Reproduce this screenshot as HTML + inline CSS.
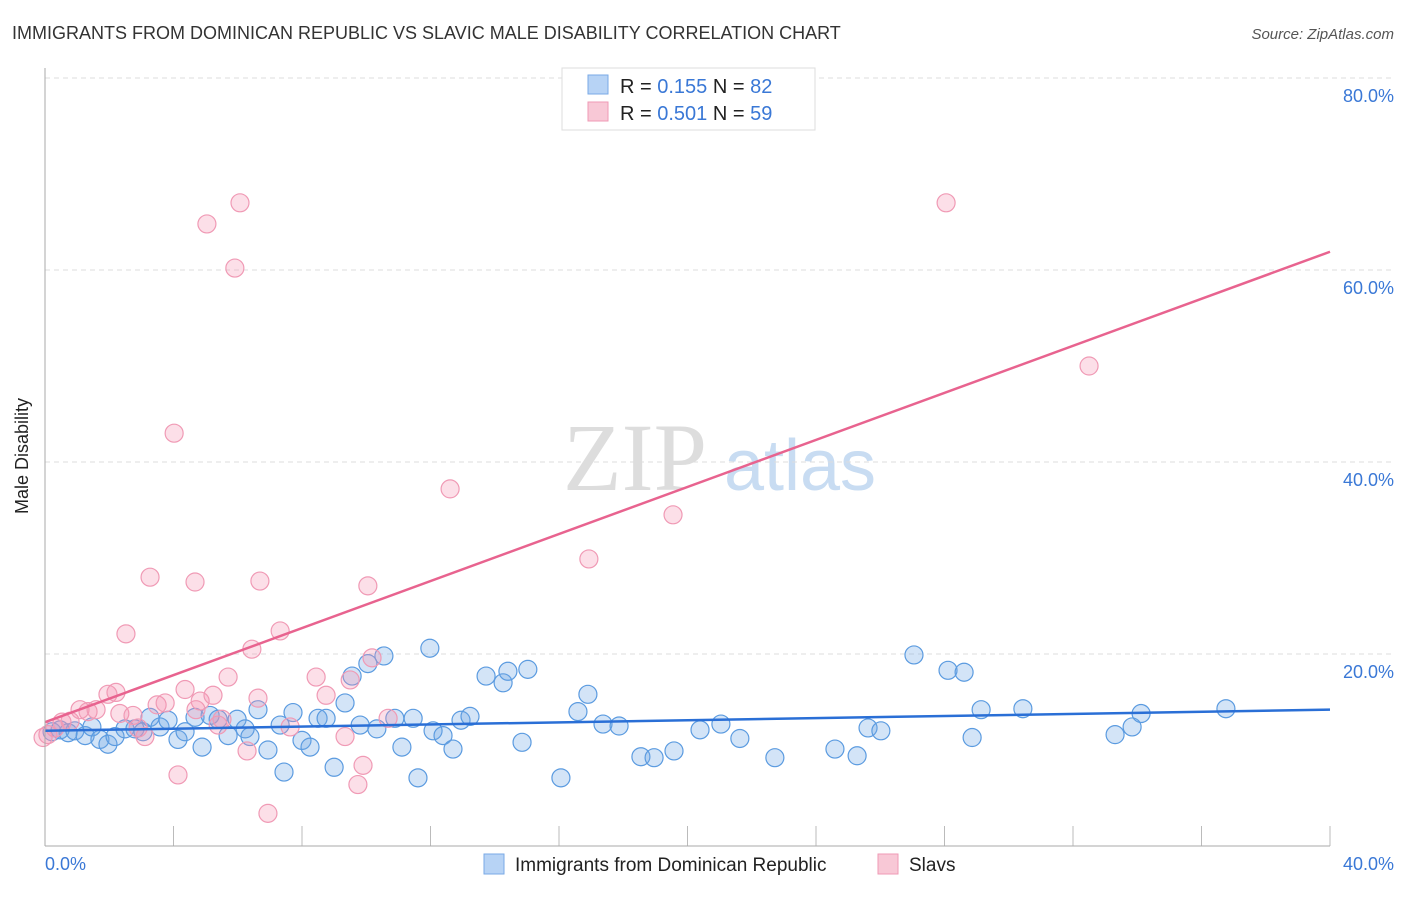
<!DOCTYPE html>
<html><head><meta charset="utf-8"><style>
body{margin:0;background:#fff;font-family:"Liberation Sans",sans-serif}
</style></head><body>
<svg id="c" width="1406" height="892" xmlns="http://www.w3.org/2000/svg">
<text x="12" y="39" font-size="18" fill="#333">IMMIGRANTS FROM DOMINICAN REPUBLIC VS SLAVIC MALE DISABILITY CORRELATION CHART</text>
<text x="1394" y="39" font-size="15" fill="#555" font-style="italic" text-anchor="end">Source: ZipAtlas.com</text>
<text x="635" y="490" font-size="96" fill="#ddd" text-anchor="middle" font-family="Liberation Serif,serif">ZIP</text>
<text x="800" y="490" font-size="72" fill="#c8dcf2" text-anchor="middle">atlas</text>
<g id="grid"></g><g id="pts"></g><g id="lines"></g>
<line x1="45" y1="68" x2="45" y2="846" stroke="#aaa"/>
<line x1="45" y1="846" x2="1330" y2="846" stroke="#aaa"/>
<text x="28" y="456" font-size="18" fill="#222" text-anchor="middle" transform="rotate(-90 28 456)">Male Disability</text>
<text x="45" y="870" font-size="18" fill="#3a78d6">0.0%</text>
<text x="1394" y="870" font-size="18" fill="#3a78d6" text-anchor="end">40.0%</text>
<g>
<rect x="562" y="68" width="253" height="62" fill="#fff" stroke="#ddd"/>
<rect x="588" y="75" width="20" height="19" fill="#b7d3f5" stroke="#7aaae6"/>
<rect x="588" y="102" width="20" height="19" fill="#f8c8d6" stroke="#ef9ab5"/>
<text x="620" y="93" font-size="20" fill="#222">R = <tspan fill="#3a78d6">0.155</tspan>   N = <tspan fill="#3a78d6">82</tspan></text>
<text x="620" y="120" font-size="20" fill="#222">R = <tspan fill="#3a78d6">0.501</tspan>   N = <tspan fill="#3a78d6">59</tspan></text>
</g>
<g>
<rect x="484" y="854" width="20" height="20" fill="#b7d3f5" stroke="#7aaae6"/>
<text x="515" y="871" font-size="19" fill="#222">Immigrants from Dominican Republic</text>
<rect x="878" y="854" width="20" height="20" fill="#f8c8d6" stroke="#ef9ab5"/>
<text x="909" y="871" font-size="19" fill="#222">Slavs</text>
</g>
</svg>
<script>
const yTicks=[20,40,60,80];
const xTicks=[0,4,8,12,16,20,24,28,32,36,40];
const blueX=[0.22,0.47,0.72,0.93,1.25,1.46,1.71,1.96,2.18,2.49,2.80,3.05,3.27,3.58,3.83,4.14,4.36,4.67,4.89,5.14,5.39,5.70,5.98,6.23,6.38,6.63,6.94,7.32,7.44,7.72,8.00,8.25,8.50,8.75,9.00,9.34,9.56,9.81,10.05,10.33,10.55,10.89,11.11,11.46,11.61,11.98,12.08,12.39,12.70,12.95,13.23,13.73,14.26,14.41,14.85,15.03,16.06,16.59,16.90,17.37,17.87,18.55,18.96,19.58,20.39,21.04,21.63,22.72,24.59,25.28,25.62,26.02,27.05,28.11,28.61,28.86,29.14,30.44,33.31,33.84,34.12,36.76];
const blueY=[11.9,12.1,11.8,12.0,11.5,12.4,11.1,10.6,11.4,12.2,12.2,11.9,13.4,12.4,13.1,11.1,11.9,13.4,10.3,13.6,13.2,11.5,13.2,12.2,11.4,14.2,10.0,12.6,7.7,13.9,11.0,10.3,13.3,13.3,8.2,14.9,17.7,12.6,19.0,12.2,19.8,13.3,10.3,13.3,7.1,20.6,12.0,11.5,10.1,13.1,13.5,17.7,17.0,18.2,10.8,18.4,7.1,14.0,15.8,12.7,12.5,9.3,9.2,9.9,12.1,12.7,11.2,9.2,10.1,9.4,12.3,12.0,19.9,18.3,18.1,11.3,14.2,14.3,11.6,12.4,13.8,14.3];
const pinkX=[0.09,0.31,0.53,0.78,1.09,1.34,1.59,1.96,2.21,2.33,2.52,2.74,2.90,3.11,3.27,3.49,3.74,4.02,4.14,4.36,4.67,4.70,4.83,5.04,5.23,5.39,5.51,5.70,5.91,6.07,6.29,6.44,6.63,6.69,7.32,7.63,8.44,8.75,9.34,9.50,9.74,9.90,10.05,10.18,10.68,12.61,16.93,19.55,6.94,28.05,32.50,-0.06];
const pinkY=[11.6,12.3,12.9,13.0,14.2,14.0,14.2,15.8,16.0,13.8,22.1,13.6,12.3,11.4,28.0,14.7,14.9,43.0,7.4,16.3,27.5,14.2,15.1,64.8,15.7,12.6,13.2,17.6,60.2,67.0,9.9,20.5,15.4,27.6,22.4,12.4,17.6,15.7,11.4,17.3,6.4,8.4,27.1,19.6,13.3,37.2,29.9,34.5,3.4,67.0,50.0,11.3];
const blueLine=[12.0,14.2];
const pinkLine=[12.9,61.9];
const X=v=>45+v*32.125, Y=v=>846-v*9.6;
const NS="http://www.w3.org/2000/svg";
const mk=(t,a,p)=>{const e=document.createElementNS(NS,t);for(const k in a)e.setAttribute(k,a[k]);p.appendChild(e);return e;};
const grid=document.getElementById('grid');
yTicks.forEach(t=>{
 const l=mk('line',{x1:45,x2:1394,y1:Y(t),y2:Y(t),stroke:'#ddd','stroke-dasharray':'5,4'},grid);
 
 
 const tx=mk('text',{x:1394,y:Y(t)+24,'font-size':18,fill:'#3a78d6','text-anchor':'end'},grid);
 tx.textContent=t.toFixed(1)+'%';
 
 
});
xTicks.forEach(t=>{
 const l=mk('line',{x1:X(t),x2:X(t),y1:826,y2:846,stroke:'#bbb'},grid);
 
 
});
const pts=document.getElementById('pts');
blueX.forEach((x,i)=>{
 const c=mk('circle',{cx:X(x),cy:Y(blueY[i]),r:9,fill:'rgba(110,165,230,0.3)',stroke:'#5b9be0','stroke-width':1.2},pts);
 
 
});
pinkX.forEach((x,i)=>{
 const c=mk('circle',{cx:X(x),cy:Y(pinkY[i]),r:9,fill:'rgba(245,150,180,0.3)',stroke:'#f09ab5','stroke-width':1.2},pts);
 
 
});
const lines=document.getElementById('lines');
const bl=mk('line',{x1:X(0),y1:Y(blueLine[0]),x2:X(40),y2:Y(blueLine[1]),stroke:'#2a6fd6','stroke-width':2.5},lines);


const pl=mk('line',{x1:X(0),y1:Y(pinkLine[0]),x2:X(40),y2:Y(pinkLine[1]),stroke:'#e8638f','stroke-width':2.5},lines);


</script>
</body></html>
